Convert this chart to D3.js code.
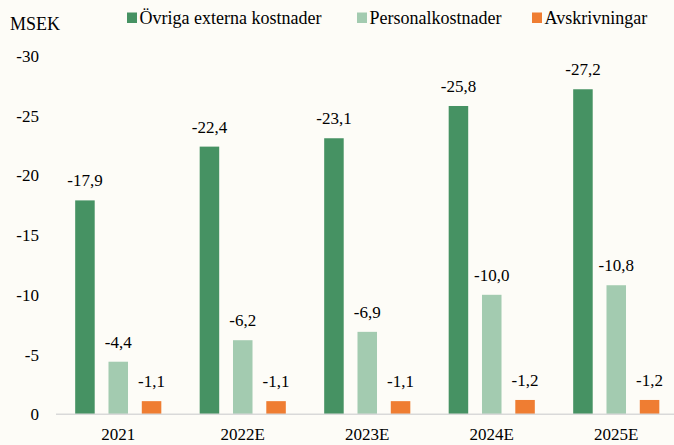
<!DOCTYPE html>
<html>
<head>
<meta charset="utf-8">
<script src="https://cdn.jsdelivr.net/npm/d3@7"></script>
<style>
  body { margin: 0; background: #fdfcf7; }
  svg { display: block; font-family: "Liberation Serif", "Times New Roman", serif; }
</style>
</head>
<body>
<svg id="chart" width="674" height="445"></svg>
<script>
const years = ['2021', '2022E', '2023E', '2024E', '2025E']
const seriesNames = ['Övriga externa kostnader', 'Personalkostnader', 'Avskrivningar']
const ovriga = [-17.9, -22.4, -23.1, -25.8, -27.2]
const personal = [-4.4, -6.2, -6.9, -10.0, -10.8]
const avskr = [-1.1, -1.1, -1.1, -1.2, -1.2]
const yTicks = [0, -5, -10, -15, -20, -25, -30]

const colors = ['#469263', '#a3cbb0', '#ef7d32']
const seriesValues = [ovriga, personal, avskr]

const fmt = v => d3.format('.1f')(v).replace('.', ',').replace('−', '-')

const svg = d3.select('#chart')
svg.append('rect').attr('width', 674).attr('height', 445).attr('fill', '#fdfcf7')

const x = d3.scaleBand().domain(years).range([56, 678.5])
const xs = d3.scaleBand().domain(seriesNames).range([0, x.bandwidth()])
  .paddingInner(0.414).paddingOuter(0.576)
const y = d3.scaleLinear().domain([0, -30]).range([414.3, 55.8])

// y tick labels
svg.append('g').selectAll('text').data(yTicks)
  .enter().append('text')
  .attr('x', 39)
  .attr('y', d => y(d))
  .attr('dy', '0.35em')
  .attr('text-anchor', 'end')
  .attr('font-size', 17)
  .attr('fill', '#000')
  .text(d => d === 0 ? '0' : String(d))

svg.append('text')
  .attr('x', 10).attr('y', 30)
  .attr('font-size', 18)
  .text('MSEK')

// bars
const rows = []
years.forEach((yr, i) => {
  seriesNames.forEach((s, j) => {
    rows.push({ year: yr, series: s, value: seriesValues[j][i], color: colors[j] })
  })
})

svg.append('g').selectAll('rect').data(rows)
  .enter().append('rect')
  .attr('x', d => x(d.year) + xs(d.series))
  .attr('y', d => y(d.value))
  .attr('width', xs.bandwidth())
  .attr('height', d => y(0) - y(d.value))
  .attr('fill', d => d.color)

svg.append('g').selectAll('text').data(rows)
  .enter().append('text')
  .attr('x', d => x(d.year) + xs(d.series) + xs.bandwidth() / 2)
  .attr('y', d => y(d.value) - 14)
  .attr('text-anchor', 'middle')
  .attr('font-size', 17)
  .text(d => fmt(d.value))

// x axis
svg.append('line')
  .attr('x1', 56).attr('x2', 674)
  .attr('y1', y(0)).attr('y2', y(0))
  .attr('stroke', '#d9d9d9')
  .attr('stroke-width', 1.5)

svg.append('g').selectAll('text').data(years)
  .enter().append('text')
  .attr('x', d => x(d) + x.bandwidth() / 2)
  .attr('y', 440)
  .attr('text-anchor', 'middle')
  .attr('font-size', 17)
  .text(d => d)

// legend
const legendX = [127, 357, 532]
const legend = svg.append('g').selectAll('g').data(seriesNames)
  .enter().append('g')
  .attr('transform', (d, i) => `translate(${legendX[i]}, 0)`)
legend.append('rect')
  .attr('x', 0).attr('y', 12.5)
  .attr('width', 10).attr('height', 10.5)
  .attr('fill', (d, i) => colors[i])
legend.append('text')
  .attr('x', 12.5).attr('y', 24)
  .attr('font-size', 18)
  .text(d => d)
</script>
</body>
</html>
